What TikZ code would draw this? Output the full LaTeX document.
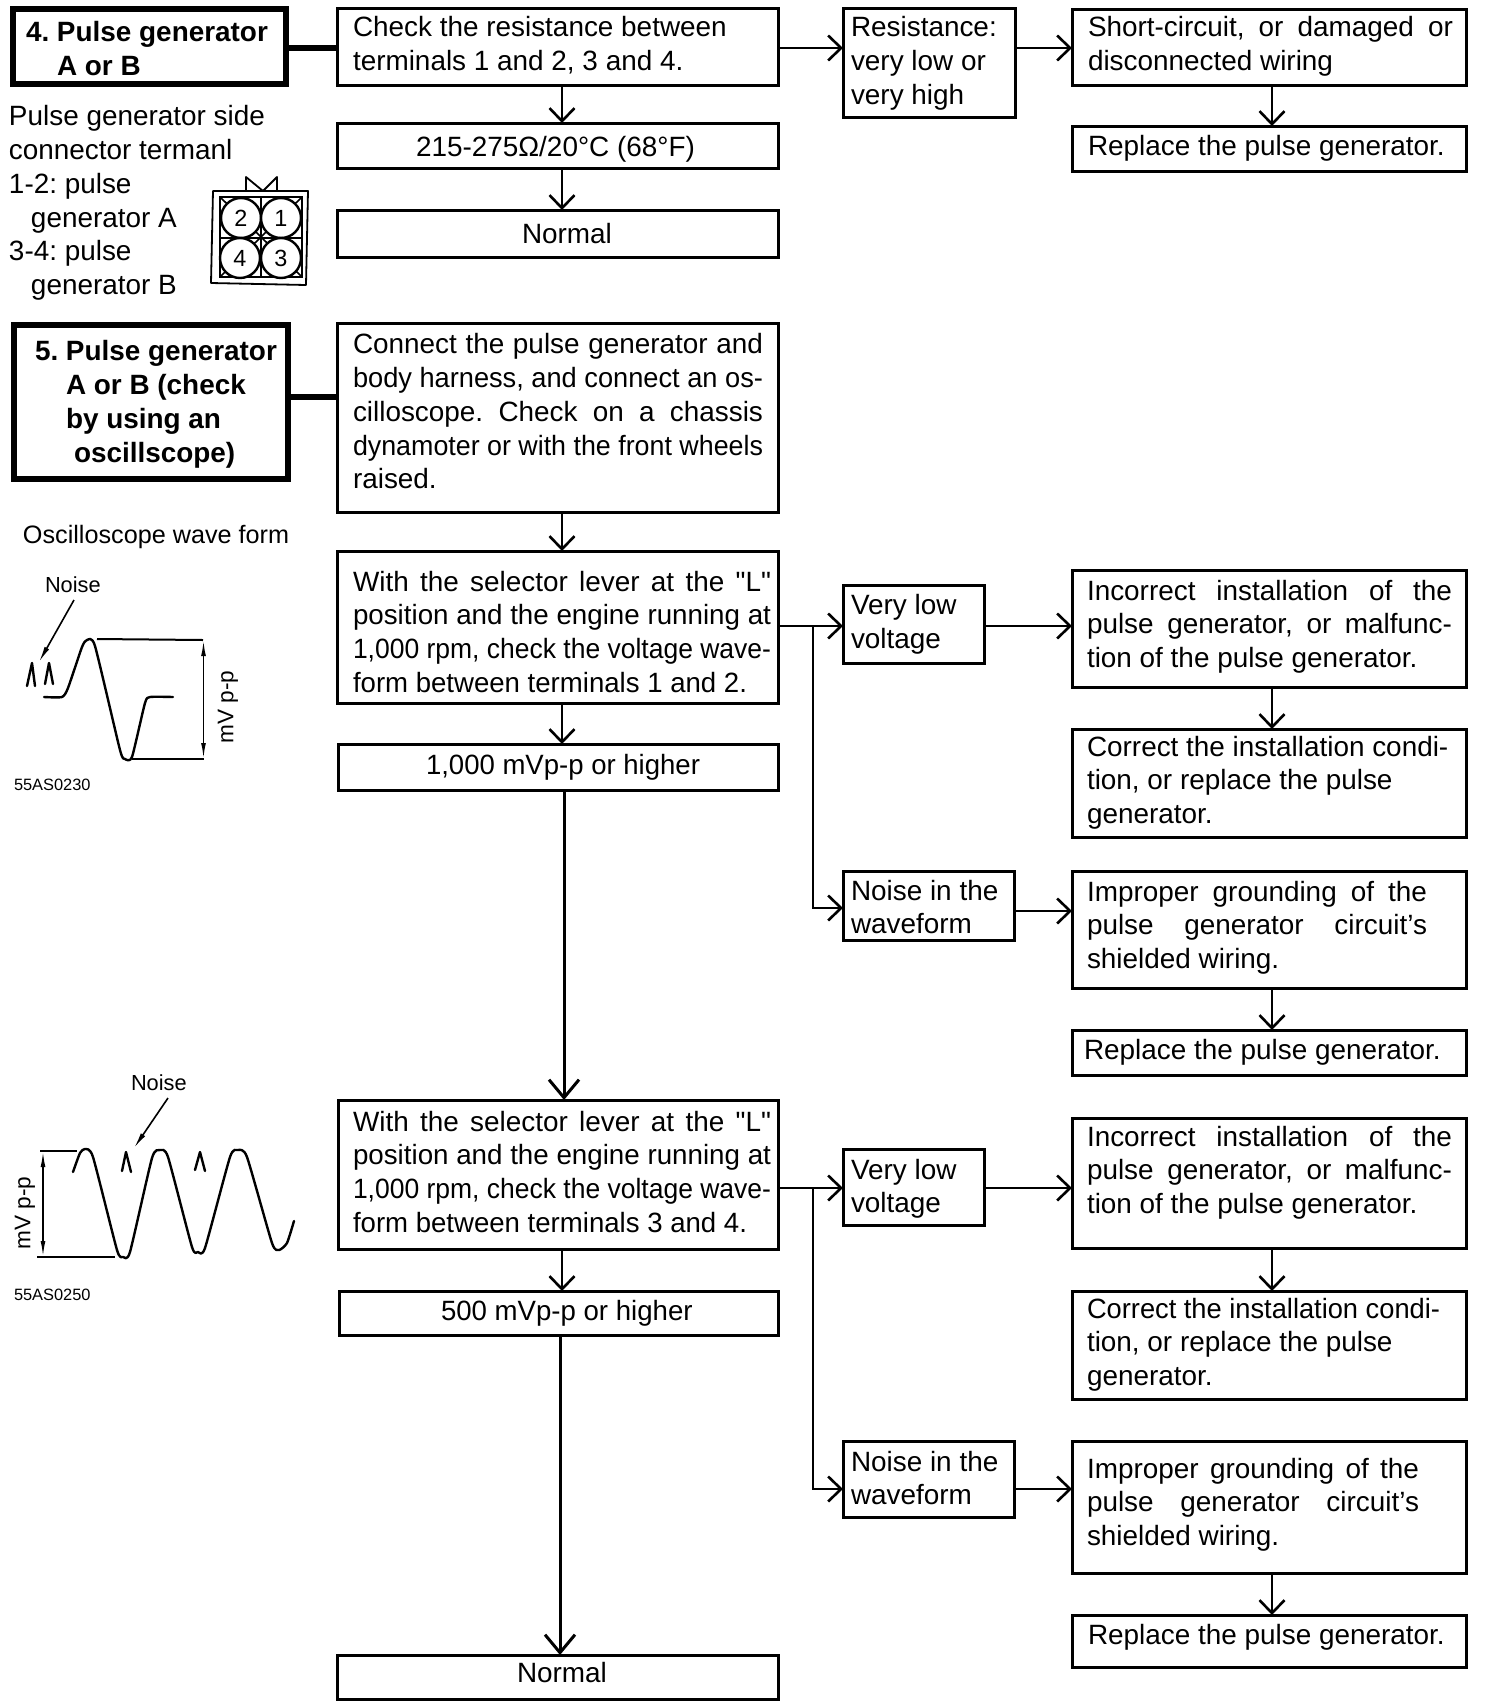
\documentclass[tikz,border=0pt]{standalone}
\usepackage{fontspec}
\usepackage{graphicx}
\setmainfont{Liberation Sans}
\newfontfamily\qfont{Liberation Sans}
\usetikzlibrary{arrows.meta}
\frenchspacing
\newcommand{\fsmain}{\fontsize{13.95}{16.85}\selectfont}
\newcommand{\sq}{{\qfont"}}
\newcommand{\jw}[2]{\sbox0{#2}\ifdim\wd0>#1pt\relax\resizebox{#1pt}{\height}{#2}\else\makebox[#1pt][s]{#2}\fi}
% style, name, x1, y1, x2, y2, text x, first baseline y, text
\newcommand{\boxat}[9][box]{%
  \pgfmathsetmacro{\mycx}{(#3+#5)/2}\pgfmathsetmacro{\mycy}{(#4+#6)/2}%
  \pgfmathsetmacro{\mywd}{(#5-#3)*0.5}\pgfmathsetmacro{\myht}{(#6-#4)*0.5}%
  \node[#1,minimum width=\mywd pt,minimum height=\myht pt] (#2) at (\mycx,\mycy) {};%
  \pgfmathsetmacro{\mytop}{#8-23.6}%
  \node[txt,anchor=north west] (#2-t) at (#7,\mytop) {\strut #9};%
}
\tikzset{
  box/.style={draw=black,line width=1.5pt,inner sep=0pt,outer sep=0pt,fill=none},
  headbox/.style={draw=black,line width=3pt,inner sep=0pt,outer sep=0pt,fill=none},
  txt/.style={inner sep=0pt,outer sep=0pt,align=left,font=\fsmain,text=black},
  lbl/.style={inner sep=0pt,outer sep=0pt,text=black},
  arr/.style={line width=1.4pt,-{Straight Barb[length=6.5pt,width=12.5pt,line width=1.3pt]}},
  bigarr/.style={line width=1.5pt,-{Straight Barb[length=9pt,width=15pt,line width=1.5pt]}},
  thicklink/.style={line width=3pt},
  wave/.style={line width=1.2pt,line join=round,line cap=round},
  leader/.style={line width=0.8pt,-{Latex[length=8pt,width=2.6pt]}},
  dim/.style={line width=0.8pt,{Latex[length=8pt,width=2.4pt]}-{Latex[length=8pt,width=2.4pt]}},
  pin/.style={draw=black,fill=white,line width=1.2pt,circle,minimum size=20pt,inner sep=0pt,font=\fontsize{11.7}{12}\selectfont},
}
\begin{document}
\begin{tikzpicture}[x=0.5pt,y=-0.5pt]
\useasboundingbox (0,0) rectangle (1488,1708);
% reference columns and rows of the connectors
\coordinate (colA) at (562,0);
\coordinate (colS) at (564,0);
\coordinate (colN) at (560,0);
\coordinate (colR) at (1272,0);
\coordinate (colB) at (813,0);
\coordinate (rowA) at (0,48);
\coordinate (rowH) at (0,397);
\coordinate (rowB) at (0,626);
\coordinate (rowF) at (0,908);
\coordinate (rowC) at (0,911);
\coordinate (rowD) at (0,1188);
\coordinate (rowE) at (0,1489);

% heading boxes
\boxat[headbox]{h4}{13}{9}{286}{84}{26}{42}{\bfseries 4. Pulse generator\\\bfseries\hspace*{15.5pt}A or B}
\boxat[headbox]{h5}{14}{325}{288}{479}{35}{361}{\bfseries 5. Pulse generator\\\bfseries\hspace*{15.5pt}A or B (check\\\bfseries\hspace*{15.5pt}by using an\\\bfseries\hspace*{19.5pt}oscillscope)}

% first column
\boxat{check}{337}{8}{778}{85}{353}{37}{Check the resistance between\\terminals 1 and 2, 3 and 4.}
\boxat{ohm}{337}{123}{778}{168}{416}{157}{215-275Ω/20°C (68°F)}
\boxat{norm}{337}{210}{778}{257}{522}{244}{Normal}
\boxat{conn}{337}{323}{778}{512}{353}{354}{\jw{205}{Connect the pulse generator and}\\\jw{205}{body harness, and connect an os-}\\\jw{205}{cilloscope. Check on a chassis}\\\jw{205}{dynamoter or with the front wheels}\\raised.}
\boxat{witha}{337}{551}{778}{703}{353}{591}{\jw{209}{With the selector lever at the \sq L\sq}\\\jw{209}{position and the engine running at}\\\jw{209}{1,000 rpm, check the voltage wave-}\\\jw{197}{form between terminals 1 and 2.}}
\boxat{mva}{338}{744}{778}{790}{426}{774}{\jw{137}{1,000 mVp-p or higher}}
\boxat{withb}{338}{1100}{778}{1249}{353}{1131}{\jw{209}{With the selector lever at the \sq L\sq}\\\jw{209}{position and the engine running at}\\\jw{209}{1,000 rpm, check the voltage wave-}\\\jw{197}{form between terminals 3 and 4.}}
\boxat{mvb}{339}{1291}{778}{1335}{441}{1320}{\jw{125.8}{500 mVp-p or higher}}
\boxat{normb}{337}{1655}{778}{1699}{517}{1682}{Normal}

% second column
\boxat{res}{843}{8}{1015}{117}{851}{37}{Resistance:\\very low or\\very high}
\boxat{lowa}{843}{585}{984}{663}{851}{615}{Very low\\voltage}
\boxat{noisea}{843}{871}{1014}{940}{851}{900}{Noise in the\\waveform}
\boxat{lowb}{843}{1149}{984}{1225}{851}{1179}{Very low\\voltage}
\boxat{noiseb}{843}{1441}{1014}{1517}{851}{1471}{Noise in the\\waveform}

% third column
\boxat{short}{1072}{9}{1466}{85}{1088}{37}{\jw{182.5}{Short-circuit, or damaged or}\\disconnected wiring}
\boxat{repa}{1072}{126}{1466}{171}{1088}{156}{Replace the pulse generator.}
\boxat{inca}{1072}{570}{1466}{687}{1087}{600}{\jw{182.5}{Incorrect installation of the}\\\jw{182.5}{pulse generator, or malfunc-}\\tion of the pulse generator.}
\boxat{cora}{1072}{729}{1466}{837}{1087}{756}{Correct the installation condi-\\tion, or replace the pulse\\generator.}
\boxat{impa}{1072}{871}{1466}{988}{1087}{901}{\jw{170}{Improper grounding of the}\\\jw{170}{pulse generator circuit's}\\shielded wiring.}
\boxat{repb}{1072}{1030}{1466}{1075}{1084}{1059}{Replace the pulse generator.}
\boxat{incb}{1072}{1118}{1466}{1248}{1087}{1146}{\jw{182.5}{Incorrect installation of the}\\\jw{182.5}{pulse generator, or malfunc-}\\tion of the pulse generator.}
\boxat{corb}{1072}{1291}{1466}{1399}{1087}{1318}{\jw{176.5}{Correct the installation condi-}\\tion, or replace the pulse\\generator.}
\boxat{impb}{1072}{1441}{1466}{1573}{1087}{1478}{\jw{166}{Improper grounding of the}\\\jw{166}{pulse generator circuit's}\\shielded wiring.}
\boxat{repc}{1072}{1615}{1466}{1667}{1088}{1644}{Replace the pulse generator.}

% connectors
\draw[thicklink] (h4.east |- rowA) -- (check.west |- rowA);
\draw[thicklink] (h5.east |- rowH) -- (conn.west |- rowH);
\draw[arr] (check.east |- rowA) -- (res.west |- rowA);
\draw[arr] (res.east |- rowA) -- (short.west |- rowA);
\draw[arr] (colA |- check.south) -- (colA |- ohm.north);
\draw[arr] (colA |- ohm.south) -- (colA |- norm.north);
\draw[arr] (colR |- short.south) -- (colR |- repa.north);
\draw[arr] (colA |- conn.south) -- (colA |- witha.north);
\draw[arr] (colA |- witha.south) -- (colA |- mva.north);
\draw[bigarr] (colS |- mva.south) -- (colS |- withb.north);
\draw[arr] (witha.east |- rowB) -- (lowa.west |- rowB);
\draw[arr] (lowa.east |- rowB) -- (inca.west |- rowB);
\draw[arr] (colB |- rowB) -- (colB |- rowF) -- (noisea.west |- rowF);
\draw[arr] (noisea.east |- rowC) -- (impa.west |- rowC);
\draw[arr] (colR |- inca.south) -- (colR |- cora.north);
\draw[arr] (colR |- impa.south) -- (colR |- repb.north);
\draw[arr] (colA |- withb.south) -- (colA |- mvb.north);
\draw[bigarr] (colN |- mvb.south) -- (colN |- normb.north);
\draw[arr] (withb.east |- rowD) -- (lowb.west |- rowD);
\draw[arr] (lowb.east |- rowD) -- (incb.west |- rowD);
\draw[arr] (colB |- rowD) -- (colB |- rowE) -- (noiseb.west |- rowE);
\draw[arr] (noiseb.east |- rowE) -- (impb.west |- rowE);
\draw[arr] (colR |- incb.south) -- (colR |- corb.north);
\draw[arr] (colR |- impb.south) -- (colR |- repc.north);

% side text
\node[txt,anchor=north west] (sidetext) at (9,{126-23.6}) {\strut Pulse generator side\\connector termanl\\1-2: pulse\\\hspace*{11pt}generator A\\3-4: pulse\\\hspace*{11pt}generator B};

% connector icon
\draw[line width=0.9pt,line join=round] (213,191) -- (308,191) -- (306,285) -- (211,283) -- cycle;
\draw[line width=1.4pt] (220,197) rectangle (302,277);
\draw[line width=0.9pt,line join=round] (246,191) -- (246,177) -- (263,191) -- (277,177) -- (277,191);
\draw[line width=0.8pt] (261,197) -- (261,277) (220,238) -- (302,238);
\draw[line width=0.8pt] (220,197) -- (302,277) (302,197) -- (220,277);
\node[pin] (pintwo) at (241,218) {2};
\node[pin] (pinone) at (281,218) {1};
\node[pin] (pinfour) at (240,258) {4};
\node[pin] (pinthree) at (281,258) {3};

% first oscilloscope figure
\node[lbl,anchor=base west,font=\fontsize{12.6}{14}\selectfont] (scope) at (23,543) {Oscilloscope wave form};
\node[lbl,anchor=base west,font=\fontsize{10.9}{12}\selectfont] (noisetexta) at (45,592) {Noise};
\coordinate (noisetipa) at (39,662);
\draw[leader] (74,600) -- (noisetipa);
\draw[wave] (27,686) -- (32,663) -- (35,686);
\draw[wave] (45,684) -- (49,663) -- (53,684);
\draw[wave] plot[smooth,tension=0.35] coordinates {(44,697) (62,697) (68,688) (82,647) (87,640) (95,646) (120,750) (125,759) (132,757) (145,703) (150,697) (173,697)};
\draw[line width=1pt] (97,639) -- (203,640);
\draw[line width=1pt] (132,759) -- (204,759);
\draw[dim] (203.5,640) -- (203.5,759);
\node[lbl,rotate=90,font=\fontsize{11.3}{12}\selectfont] (mvlabela) at (228,707) {mV p-p};
\node[lbl,anchor=base west,font=\fontsize{8.2}{10}\selectfont] (codea) at (14,790) {55AS0230};

% second oscilloscope figure
\node[lbl,anchor=base west,font=\fontsize{10.9}{12}\selectfont] (noisetextb) at (131,1090) {Noise};
\coordinate (noisetipb) at (134,1148);
\draw[leader] (168,1098) -- (noisetipb);
\draw[wave] (122,1171) -- (126,1152) -- (131,1172);
\draw[wave] (195,1170) -- (200,1152) -- (205,1171);
\draw[wave] plot[smooth,tension=0.35] coordinates {(73,1172) (80,1153) (85,1149) (93,1157) (117,1250) (123,1257) (130,1252) (152,1158) (160,1150) (168,1157) (192,1247) (198,1252) (205,1248) (230,1157) (238,1150) (247,1157) (272,1243) (279,1250) (287,1243) (294,1221)};
\draw[line width=0.8pt] (40,1151) -- (77,1151);
\draw[line width=1.4pt] (37,1257) -- (115,1257);
\draw[dim] (43,1151) -- (43,1257);
\node[lbl,rotate=90,font=\fontsize{11.3}{12}\selectfont] (mvlabelb) at (25,1213) {mV p-p};
\node[lbl,anchor=base west,font=\fontsize{8.2}{10}\selectfont] (codeb) at (14,1300) {55AS0250};
\end{tikzpicture}
\end{document}
